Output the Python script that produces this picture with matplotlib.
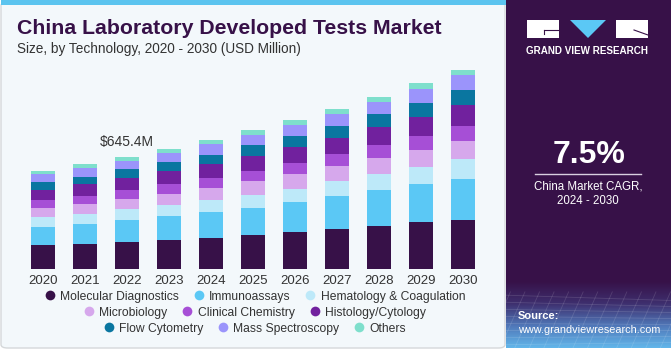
import matplotlib
matplotlib.use("Agg")
import matplotlib.pyplot as plt
import numpy as np
from matplotlib.patches import FancyBboxPatch, Rectangle, Polygon
from matplotlib.lines import Line2D
from matplotlib.colors import LinearSegmentedColormap

plt.rcParams['font.family'] = ['Liberation Sans', 'DejaVu Sans']

years = ["2020", "2021", "2022", "2023", "2024", "2025", "2026", "2027", "2028", "2029", "2030"]
segments = ["Molecular Diagnostics", "Immunoassays", "Hematology & Coagulation",
            "Microbiology", "Clinical Chemistry", "Histology/Cytology",
            "Flow Cytometry", "Mass Spectroscopy", "Others"]
molecular = [138.3, 147.9, 159.4, 169.0, 182.5, 199.8, 213.2, 232.4, 251.7, 272.8, 284.3]
immuno = [107.6, 113.3, 124.9, 136.4, 146.0, 155.6, 172.9, 190.2, 203.6, 219.0, 238.2]
hemat = [55.7, 59.6, 61.5, 65.3, 71.1, 73.0, 78.8, 86.4, 94.1, 98.0, 113.3]
micro = [53.8, 55.7, 59.6, 63.4, 69.2, 80.7, 84.5, 86.4, 90.3, 98.0, 103.7]
clinical = [44.2, 48.0, 51.9, 57.6, 57.6, 57.6, 65.3, 69.2, 76.8, 78.8, 86.4]
histo = [59.6, 65.3, 71.1, 73.0, 82.6, 86.4, 90.3, 94.1, 103.7, 113.3, 121.0]
flow = [42.3, 44.2, 48.0, 53.8, 51.9, 61.5, 63.4, 69.2, 74.9, 80.7, 86.4]
mass = [48.0, 51.9, 50.0, 53.8, 63.4, 59.6, 63.4, 67.2, 71.1, 78.8, 86.4]
others = [19.2, 21.1, 19.2, 19.2, 19.2, 26.9, 28.8, 28.8, 28.8, 32.7, 26.9]
series = [molecular, immuno, hemat, micro, clinical, histo, flow, mass, others]
colors = ["#371148", "#5bc8f5", "#bde9f9", "#d6a8ec", "#a64fd6", "#71219e",
          "#0a76a0", "#9b94fb", "#7edfcc"]
annot_year = "2022"
annot_text = "$645.4M"

W, H = 671, 350
fig = plt.figure(figsize=(W / 100, H / 100), dpi=100)
fig.patch.set_facecolor("white")

def fx(x): return x / W
def fy(y): return 1 - y / H

# left panel background
bg = FancyBboxPatch((1 / W, 2 / H), 504 / W, 346 / H, boxstyle="round,pad=0,rounding_size=0.01",
                    transform=fig.transFigure, facecolor="#f3f8fb", edgecolor="#d5d8da", lw=1.0, zorder=0)
fig.patches.append(bg)
fig.patches.append(Rectangle((1 / W, 345 / H), 505 / W, 5 / H, transform=fig.transFigure,
                             facecolor="#5bc4ef", edgecolor="none", zorder=0))

# right panel
px0 = 506
fig.patches.append(Rectangle((px0 / W, 2 / H), (W - px0) / W, 348 / H, transform=fig.transFigure,
                             facecolor="#371148", edgecolor="none", zorder=0))
gax = fig.add_axes([px0 / W, 2 / H, (W - px0) / W, 66 / H])
gax.set_zorder(2)
grad = np.linspace(0, 1, 100)[:, None]
cmap = LinearSegmentedColormap.from_list("g", ["#62b6ea", "#5077b8", "#3e2f6e", "#371148"])
gax.imshow(grad, aspect="auto", cmap=cmap, origin="lower", extent=[0, 1, 0, 1])
for k in np.linspace(-0.3, 1.2, 18):
    gax.plot([k, k + 0.15], [0, 0.85], color="white", alpha=0.13, lw=0.6)
for k in np.linspace(0.05, 0.8, 8):
    gax.plot([0, 1], [k, k * 0.85 + 0.04], color="white", alpha=0.13, lw=0.6)
gax.set_xlim(0, 1); gax.set_ylim(0, 1)
gax.axis("off")

# logo
fig.patches.append(Rectangle((fx(527), fy(38)), 32 / W, 18 / H, transform=fig.transFigure,
                             facecolor="white", edgecolor="none", zorder=1))
fig.patches.append(Rectangle((fx(616), fy(38)), 32 / W, 18 / H, transform=fig.transFigure,
                             facecolor="white", edgecolor="none", zorder=1))
fig.patches.append(Polygon([(fx(570), fy(20)), (fx(606), fy(20)), (fx(588), fy(38))],
                           closed=True, transform=fig.transFigure, facecolor="#5bc8f5",
                           edgecolor="none", zorder=1))
fig.add_artist(Line2D([fx(544), fx(559)], [fy(30), fy(30)], color="#371148", lw=0.8))
fig.add_artist(Line2D([fx(544), fx(544)], [fy(30), fy(34)], color="#371148", lw=0.8))
fig.add_artist(Line2D([fx(634), fx(648)], [fy(30), fy(35)], color="#371148", lw=0.8))
fig.text(fx(587.5), fy(51), "GRAND VIEW RESEARCH", color="white", fontsize=7.1, fontweight="bold",
         ha="center", va="center")

fig.text(fx(589), fy(155), "7.5%", color="white", fontsize=23, fontweight="bold", ha="center", va="center")
fig.add_artist(Line2D([fx(535), fx(641)], [fy(173.5), fy(173.5)], color="#d8cfe0", lw=1.0))
fig.text(fx(588), fy(186), "China Market CAGR,", color="white", fontsize=8.3, ha="center", va="center")
fig.text(fx(588), fy(201), "2024 - 2030", color="white", fontsize=8.3, ha="center", va="center")
fig.text(fx(518), fy(316), "Source:", color="white", fontsize=8, fontweight="bold", ha="left", va="center",
         zorder=5)
fig.text(fx(518), fy(330), "www.grandviewresearch.com", color="white", fontsize=7.8, ha="left", va="center",
         zorder=5)

# titles
fig.text(fx(17), fy(28), "China Laboratory Developed Tests Market", color="#371148", fontsize=15.3,
         fontweight="bold", ha="left", va="center")
fig.text(fx(17), fy(49), "Size, by Technology, 2020 - 2030 (USD Million)", color="#333333", fontsize=9.8,
         ha="left", va="center")

# chart axes
base_y = 269.3
top_y = base_y - 1200 / 5.763
ax = fig.add_axes([fx(22), fy(base_y), 462 / W, (base_y - top_y) / H])
ax.set_zorder(2)
ax.set_facecolor("none")
x = np.arange(len(years))
bottom = np.zeros(len(years))
for vals, c, name in zip(series, colors, segments):
    ax.bar(x, vals, width=0.571, bottom=bottom, color=c, edgecolor="none", label=name)
    bottom += np.array(vals)
ax.set_xlim(-0.5, len(years) - 0.5)
ax.set_ylim(0, 1200)
ax.set_xticks(x)
ax.set_xticklabels(years, fontsize=9.5, color="#333333")
ax.tick_params(axis="x", length=0, pad=4)
ax.set_yticks([])
for s in ax.spines.values():
    s.set_visible(False)
ai = years.index(annot_year)
ax.text(ai, bottom[ai] + 90, annot_text, fontsize=10, color="#333333", ha="center", va="center")

# legend rows
rows = [segments[0:3], segments[3:6], segments[6:9]]
row_y = [296.7, 312.7, 328.7]
for names, ry in zip(rows, row_y):
    handles = [Line2D([], [], marker="o", linestyle="none", markersize=7,
                      markerfacecolor=colors[segments.index(n)], markeredgecolor="none") for n in names]
    leg = fig.legend(handles, names, loc="center", bbox_to_anchor=(fx(255), fy(ry)), ncol=3,
                     frameon=False, fontsize=8.7, handlelength=0.8, handletextpad=0.45,
                     columnspacing=1.25, labelcolor="#333333", borderpad=0, borderaxespad=0)
    leg.set_zorder(5)

fig.savefig("out.png", dpi=100, facecolor=fig.get_facecolor())
